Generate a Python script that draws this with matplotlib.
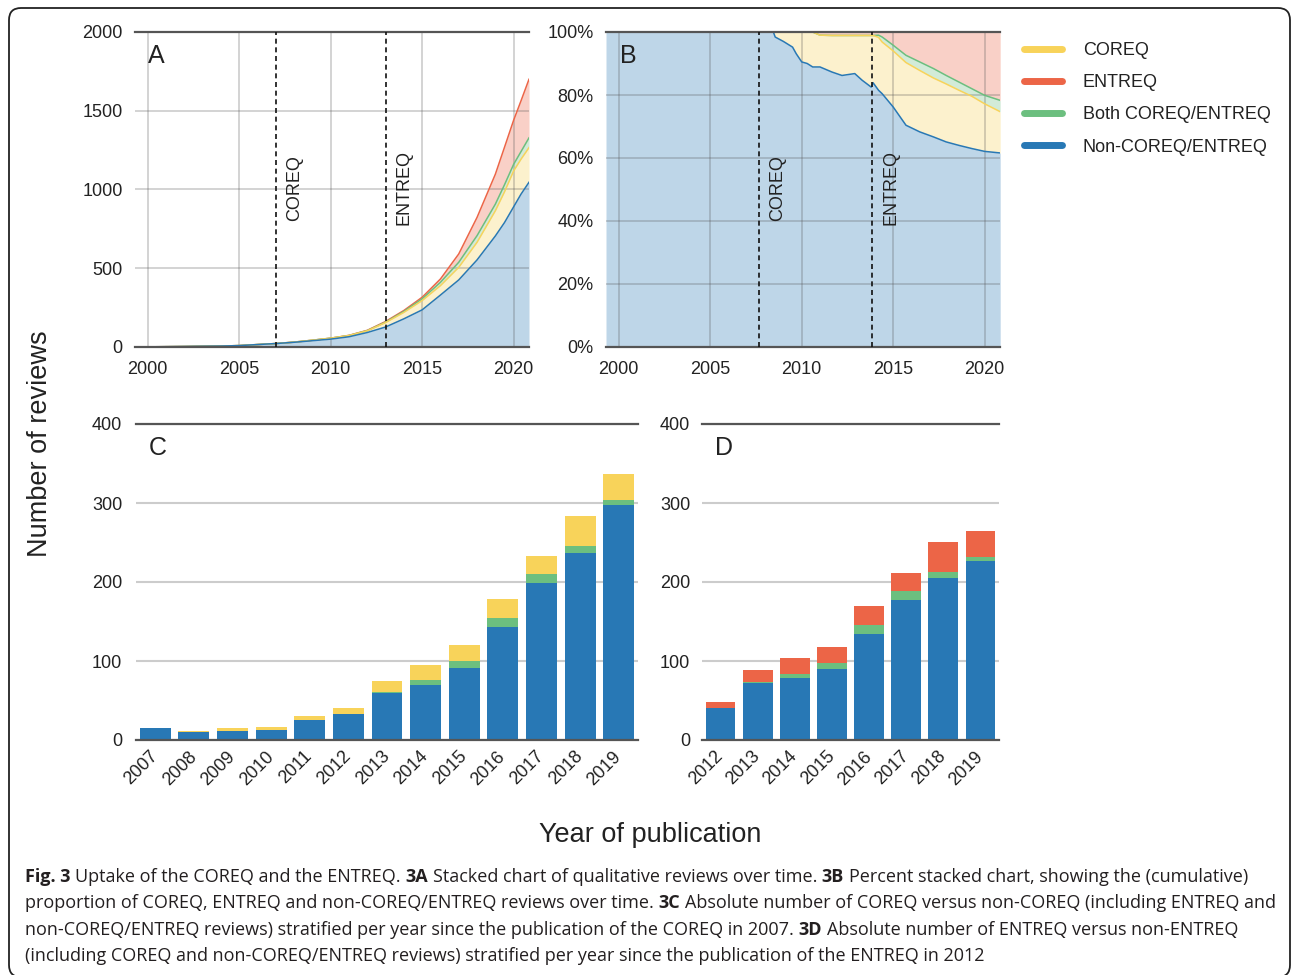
import matplotlib
matplotlib.use("Agg")
import matplotlib.pyplot as plt
import numpy as np
from matplotlib.lines import Line2D
from matplotlib.patches import FancyBboxPatch

plt.rcParams["font.family"] = ["Liberation Sans", "DejaVu Sans"]
plt.rcParams["text.color"] = "#222222"

# ---------------- data ----------------
# Panel A: cumulative number of reviews, tops of each stacked band
years_a = [2000, 2002, 2004, 2005, 2007, 2008, 2009, 2010, 2011, 2012, 2013, 2014,
           2015, 2016, 2017, 2018, 2019, 2019.5, 2020, 2020.4, 2020.84]
a_non_top = [1, 3, 6, 9, 22, 30, 40, 50, 65, 92, 127, 179,
             236, 330, 426, 553, 705, 790, 890, 970, 1046]
a_coreq_top = [1, 3, 6, 9, 22, 31, 43, 56, 73, 103, 155, 220,
               295, 390, 506, 665, 865, 985, 1118, 1192, 1266]
a_both_top = [1, 3, 6, 9, 22, 31, 43, 56, 73, 104, 158, 226,
              306, 411, 538, 707, 907, 1030, 1160, 1240, 1328]
a_entreq_top = [1, 3, 6, 9, 22, 31, 43, 56, 74, 106, 162, 232,
                316, 432, 591, 823, 1097, 1268, 1440, 1562, 1700]

# Panel B: cumulative share (%), tops of each stacked band
years_b = [1999.3, 2008.45, 2008.55, 2009.0, 2009.5, 2009.7, 2010.0, 2010.3, 2010.6,
           2011.0, 2011.65, 2012.2, 2012.9, 2013.3, 2013.8, 2013.9, 2014.2, 2014.4,
           2015.0, 2015.7, 2016.45, 2017.2, 2017.9, 2018.6, 2019.3, 2020.0, 2020.85]
b_non_top = [100, 100, 98.4, 97.0, 95.2, 93.1, 90.5, 90.0, 88.9,
             88.9, 87.3, 86.2, 86.8, 84.7, 82.5, 83.9, 81.5, 80.4,
             76.2, 70.4, 68.3, 66.7, 65.1, 64.0, 63.0, 62.1, 61.6]
b_coreq_top = [100, 100, 100, 100, 100, 100, 100, 100, 100,
               99.0, 98.9, 98.9, 98.9, 98.9, 98.9, 98.9, 98.3, 96.8,
               94.0, 90.3, 87.8, 85.4, 83.5, 81.5, 79.6, 77.2, 74.7]
b_both_top = [100, 100, 100, 100, 100, 100, 100, 100, 100,
              99.0, 98.9, 98.9, 98.9, 98.9, 98.9, 98.9, 99.0, 98.4,
              95.8, 92.6, 90.5, 88.4, 86.2, 84.1, 82.0, 79.9, 78.3]
b_entreq_top = [100] * len(years_b)

# publication markers (as drawn in each panel)
marks_a = {"COREQ": 2007.0, "ENTREQ": 2013.0}
marks_b = {"COREQ": 2007.67, "ENTREQ": 2013.85}

# Panel C: COREQ vs non-COREQ per year
years_c = ["2007", "2008", "2009", "2010", "2011", "2012", "2013",
           "2014", "2015", "2016", "2017", "2018", "2019"]
c_non = [15, 10, 12, 13, 25, 33, 60, 70, 91, 143, 199, 237, 298]
c_both = [0, 0, 0, 0, 0, 0, 1, 6, 9, 11, 11, 8, 6]
c_coreq = [0, 1, 3, 3, 6, 8, 14, 19, 20, 25, 23, 38, 33]

# Panel D: ENTREQ vs non-ENTREQ per year
years_d = ["2012", "2013", "2014", "2015", "2016", "2017", "2018", "2019"]
d_non = [41, 72, 79, 90, 134, 177, 205, 226]
d_both = [0, 1, 5, 8, 11, 11, 8, 6]
d_entreq = [7, 15, 20, 20, 25, 24, 38, 33]

legend_labels = ["COREQ", "ENTREQ", "Both COREQ/ENTREQ", "Non-COREQ/ENTREQ"]

caption = [
    [("Fig. 3", True), ("Uptake of the COREQ and the ENTREQ.", False), ("3A", True),
     ("Stacked chart of qualitative reviews over time.", False), ("3B", True),
     ("Percent stacked chart, showing the (cumulative)", False)],
    [("proportion of COREQ, ENTREQ and non-COREQ/ENTREQ reviews over time.", False), ("3C", True),
     ("Absolute number of COREQ versus non-COREQ (including ENTREQ and", False)],
    [("non-COREQ/ENTREQ reviews) stratified per year since the publication of the COREQ in 2007.", False),
     ("3D", True), ("Absolute number of ENTREQ versus non-ENTREQ", False)],
    [("(including COREQ and non-COREQ/ENTREQ reviews) stratified per year since the publication of the ENTREQ in 2012", False)],
]
caption_widths = [1232, 1250, 1250, 956]  # px, as in the printed figure

# ---------------- styling ----------------
C_NON = "#2878b5"
C_COREQ = "#f8d35a"
C_BOTH = "#6cbf7f"
C_ENTREQ = "#ec6547"
SPINE = "#555555"
TICK_FS = 13

W, H = 1293, 975
fig = plt.figure(figsize=(W / 100, H / 100), dpi=100)


def px_axes(left, top, right, bottom):
    return fig.add_axes([left / W, 1 - bottom / H, (right - left) / W, (bottom - top) / H])


def style_area(ax):
    for s in ["left", "right"]:
        ax.spines[s].set_visible(False)
    for s in ["top", "bottom"]:
        ax.spines[s].set_color(SPINE)
        ax.spines[s].set_linewidth(1.6)
    ax.grid(True, color="#555555", alpha=0.3, linewidth=1.2)
    ax.set_axisbelow("line")
    ax.tick_params(length=0, labelsize=TICK_FS, colors="#222222")
    ax.tick_params(axis="x", pad=10)
    ax.tick_params(axis="y", pad=9)
    ax.set_xlim(1999.3, 2020.84)
    ax.set_xticks([2000, 2005, 2010, 2015, 2020])


def stacked_area(ax, x, tops):
    cols = [C_NON, C_COREQ, C_BOTH, C_ENTREQ]
    lower = np.zeros(len(x))
    for top, c in zip(tops, cols):
        ax.fill_between(x, lower, top, color=c, alpha=0.3, linewidth=0)
        lower = np.asarray(top, dtype=float)
    for top, c in reversed(list(zip(tops, cols))):
        ax.plot(x, top, color=c, linewidth=1.1)


def markers(ax, marks):
    for name, xv in marks.items():
        ax.axvline(xv, color="#111111", linewidth=1.2, linestyle=(0, (3, 2.2)), zorder=3)
        ax.annotate(name, xy=(xv, 0.505), xycoords=("data", "axes fraction"),
                    xytext=(13.5, 0), textcoords="offset points",
                    rotation=90, ha="center", va="center", fontsize=13)


def style_bars(ax, n):
    for s in ["left", "right"]:
        ax.spines[s].set_visible(False)
    for s in ["top", "bottom"]:
        ax.spines[s].set_color(SPINE)
        ax.spines[s].set_linewidth(1.6)
    ax.yaxis.grid(True, color="#cccccc", linewidth=1.5)
    ax.set_axisbelow(True)
    ax.set_ylim(0, 400)
    ax.set_yticks([0, 100, 200, 300, 400])
    ax.set_xlim(-0.5, n - 0.5)
    ax.tick_params(length=0, labelsize=TICK_FS, colors="#222222")
    ax.tick_params(axis="x", pad=10)


# Panel A
ax_a = px_axes(135, 32, 529, 347)
style_area(ax_a)
stacked_area(ax_a, years_a, [a_non_top, a_coreq_top, a_both_top, a_entreq_top])
ax_a.set_ylim(0, 2000)
ax_a.set_yticks([0, 500, 1000, 1500, 2000])
markers(ax_a, marks_a)
ax_a.text(0.033, 0.962, "A", transform=ax_a.transAxes, fontsize=18, va="top")

# Panel B
ax_b = px_axes(606, 32, 1000, 347)
style_area(ax_b)
stacked_area(ax_b, years_b, [b_non_top, b_coreq_top, b_both_top, b_entreq_top])
ax_b.set_ylim(0, 100)
ax_b.set_yticks([0, 20, 40, 60, 80, 100])
ax_b.set_yticklabels([f"{v}%" for v in [0, 20, 40, 60, 80, 100]])
markers(ax_b, marks_b)
ax_b.text(0.036, 0.962, "B", transform=ax_b.transAxes, fontsize=18, va="top")

# Panel C
ax_c = px_axes(136, 424, 638, 740)
xc = np.arange(len(years_c))
c_non_arr, c_both_arr = np.array(c_non), np.array(c_both)
ax_c.bar(xc, c_non, 0.8, color=C_NON)
ax_c.bar(xc, c_both, 0.8, bottom=c_non_arr, color=C_BOTH)
ax_c.bar(xc, c_coreq, 0.8, bottom=c_non_arr + c_both_arr, color=C_COREQ)
style_bars(ax_c, len(years_c))
ax_c.tick_params(axis="y", pad=10)
ax_c.set_xticks(xc)
ax_c.set_xticklabels(years_c, rotation=45, ha="right", va="center", rotation_mode="anchor")
ax_c.text(0.026, 0.962, "C", transform=ax_c.transAxes, fontsize=18, va="top")

# Panel D
ax_d = px_axes(702, 424, 999, 740)
xd = np.arange(len(years_d))
d_non_arr, d_both_arr = np.array(d_non), np.array(d_both)
ax_d.bar(xd, d_non, 0.8, color=C_NON)
ax_d.bar(xd, d_both, 0.8, bottom=d_non_arr, color=C_BOTH)
ax_d.bar(xd, d_entreq, 0.8, bottom=d_non_arr + d_both_arr, color=C_ENTREQ)
style_bars(ax_d, len(years_d))
ax_d.tick_params(axis="y", pad=8.5)
ax_d.set_xticks(xd)
ax_d.set_xticklabels(years_d, rotation=45, ha="right", va="center", rotation_mode="anchor")
ax_d.text(0.044, 0.962, "D", transform=ax_d.transAxes, fontsize=18, va="top")

# shared axis labels
fig.text(40 / W, 1 - 444 / H, "Number of reviews", rotation=90, ha="center", va="center", fontsize=19.5)
fig.text(650 / W, 1 - 835 / H, "Year of publication", ha="center", va="center", fontsize=19.5)

# legend
handles = [Line2D([0], [0], color=c, linewidth=5, solid_capstyle="round")
           for c in [C_COREQ, C_ENTREQ, C_BOTH, C_NON]]
fig.legend(handles, legend_labels, loc="upper left", bbox_to_anchor=(1024 / W, 1 - 42 / H),
           frameon=False, fontsize=13, handlelength=2.1, handletextpad=1.15,
           labelspacing=0.84, borderpad=0, borderaxespad=0)

# caption
renderer = fig.canvas.get_renderer()
CAP_FONT = ["Open Sans", "DejaVu Sans"]


def text_w(s, size, bold):
    t = fig.text(0, 0, s, fontsize=size, fontweight="bold" if bold else "normal", family=CAP_FONT)
    w = t.get_window_extent(renderer).width
    t.remove()
    return w


def line_w(runs, size):
    sp = text_w("a a", size, False) - text_w("aa", size, False)
    return sum(text_w(s, size, b) for s, b in runs) + sp * (len(runs) - 1)


# one size for the whole caption, small enough that no line runs past its printed width
cap_size = 12 * min(tw / line_w(r, 12) for r, tw in zip(caption, caption_widths))
space = text_w("a a", cap_size, False) - text_w("aa", cap_size, False)
for i, runs in enumerate(caption):
    x = 25.0
    y = 1 - (877 + i * 26.3) / H
    for s, b in runs:
        t = fig.text(x / W, y, s, fontsize=cap_size, fontweight="bold" if b else "normal",
                     family=CAP_FONT, color="#231f20", ha="left", va="center")
        x += t.get_window_extent(renderer).width + space

# rounded frame
frame = FancyBboxPatch((9, H - 977), 1281, 977 - 8, boxstyle="round,pad=0,rounding_size=12",
                       transform=None, fill=False, edgecolor="#222222", linewidth=1.3)
fig.add_artist(frame)

fig.savefig("out.png", dpi=100)
